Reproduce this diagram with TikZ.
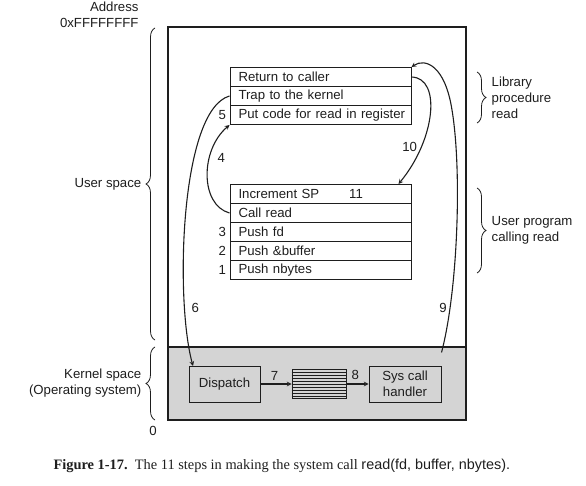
\documentclass[tikz,border=0pt]{standalone}
\usepackage{fontspec}
\setmainfont{Liberation Sans}
\newfontfamily\capfont{Liberation Serif}
\usepackage{tikz}
\usetikzlibrary{arrows}
\usetikzlibrary{positioning}
\usetikzlibrary{calc}
\usetikzlibrary{decorations.pathreplacing}
\definecolor{kernelgray}{RGB}{212,212,212}
\definecolor{ink}{RGB}{30,30,30}

\begin{document}
\begin{tikzpicture}[x=1pt,y=-1pt,node distance=19pt,every node/.style={text=ink,font=\fontsize{13.2}{16}\selectfont},
  row/.style={draw=ink,line width=1pt,minimum width=181pt,minimum height=19pt,inner xsep=8.5pt,inner ysep=0pt,text width=164pt,align=left},
  box/.style={draw=ink,line width=1pt,minimum height=36pt,inner sep=2pt,align=center},
  arr/.style={draw=ink,line width=1.1pt,-stealth},
  brc/.style={draw=ink,line width=0.8pt,decorate,decoration={brace,amplitude=9pt}}]
\useasboundingbox (0,0) rectangle (586,486);
  % address space
  \fill[kernelgray](168,347) rectangle (466,420);
  \draw[ink,line width=1.2pt](168,27) rectangle (466,420);
  \draw[ink,line width=1.2pt](168,347)--(466,347);
  \node[align=right,anchor=east] (addr) at (142,15){Address\\0xFFFFFFFF};
  \node[anchor=north] (zero) at (153,423){0};
  % library procedure read
  \node[row] (ret) at (320.5,77){Return to caller};
  \node[row,below of=ret] (trap){Trap to the kernel};
  \node[row,below of=trap] (put)[label=left:5]{\mbox{Put code for read in register}};
  % user program
  \node[row] (inc) at (320.5,194){Increment SP\hspace{30pt}11};
  \node[row,below of=inc] (call){Call read};
  \node[row,below of=call] (fd)[label=left:3]{Push fd};
  \node[row,below of=fd] (buf)[label=left:2]{Push \&buffer};
  \node[row,below of=buf] (nb)[label=left:1]{Push nbytes};
  % kernel
  \node[box,minimum width=71pt] (disp) at (224.5,384){Dispatch};
  \node[draw=ink,line width=1pt,minimum width=54pt,minimum height=29pt,inner sep=0pt,right=31pt of disp] (tbl){};
  \foreach \i in {1,...,9}
    \draw[ink] ($(tbl.north west)!\i/10!(tbl.south west)$)--($(tbl.north east)!\i/10!(tbl.south east)$);
  \node[box,minimum width=72pt,right=22pt of tbl] (sys){Sys call\\handler};
  \draw[arr](disp)--node[above,pos=0.45]{7}(tbl);
  \draw[arr](tbl)--node[above,pos=0.4]{8}(sys);
  % steps
  \draw[arr](call.west) .. controls (200,205) and (200,150) .. (put.south west) node[pos=0.66,right=4pt]{4};
  \draw[arr](trap.west) .. controls (180,110) and (175,300) .. (193,366) node[pos=0.78,right=3pt]{6};
  \draw[arr]([yshift=13pt]sys.north east) .. controls (458,290) and (462,170) .. (452,110) .. controls (445,65) and (425,58) .. (ret.north east);
  \node (nine) at (443,308){9};
  \draw[arr](ret.east) .. controls (442,78) and (435,140) .. ([xshift=-13pt]inc.north east) node[pos=0.74,left=0pt]{10};
  % braces
  \draw[brc](155,340)--(155,28) node[midway,left=10pt]{User space};
  \draw[brc](155,420)--(155,347) node[midway,left=10pt,align=right]{Kernel space\\(Operating system)};
  \draw[brc](477,72)--(477,123) node[midway,right=11pt,align=left]{Library\\procedure\\read};
  \draw[brc](477,188)--(477,273) node[midway,right=11pt,align=left]{User program\\calling read};
  % caption
  \node[anchor=west] (cap) at (50,466){\capfont\fontsize{14.4}{17}\selectfont\textbf{Figure 1-17.}\ \ The 11 steps in making the system call {\rmfamily read(fd, buffer, nbytes).}};
\end{tikzpicture}
\end{document}
